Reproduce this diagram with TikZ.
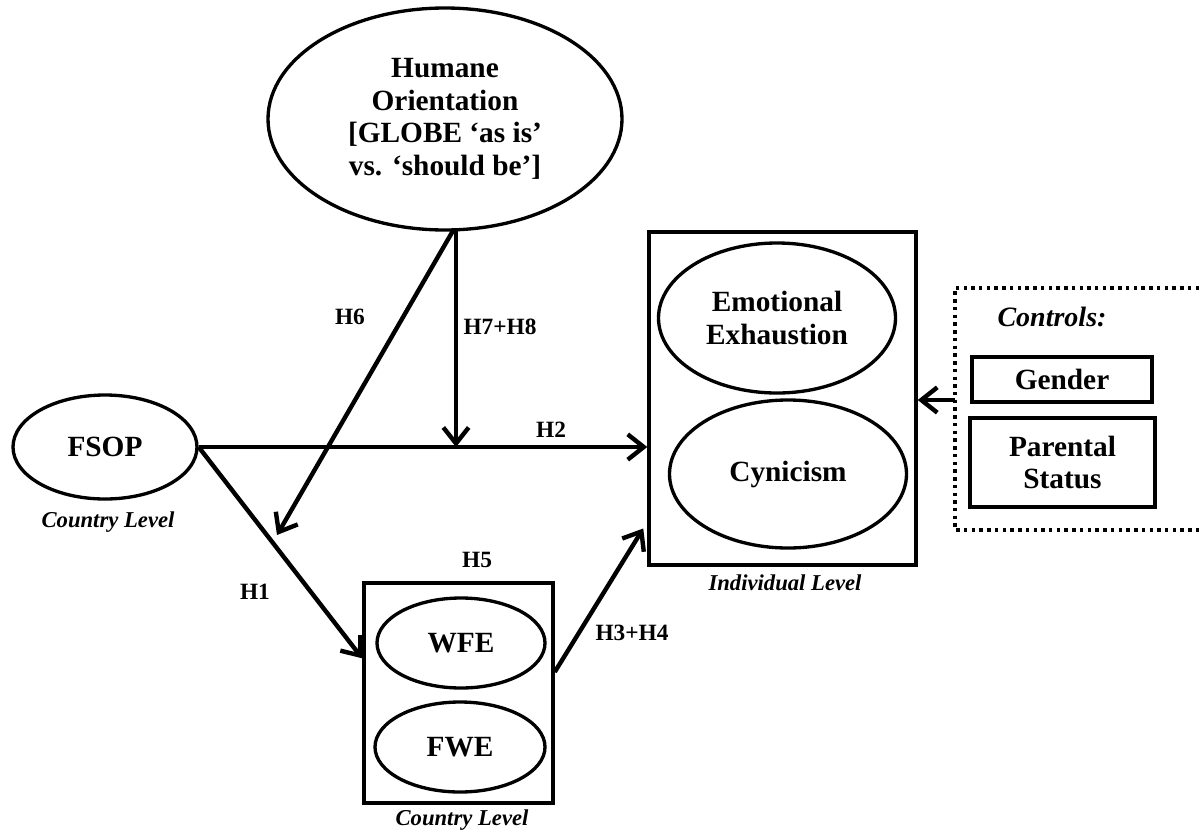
\documentclass[tikz,border=0pt]{standalone}
\usepackage{fontspec}
\setmainfont{Liberation Serif}
\usetikzlibrary{shapes.geometric,arrows.meta}
\begin{document}
\begin{tikzpicture}[x=0.75pt,y=-0.75pt,
  ell/.style={draw,ellipse,line width=2.5pt,inner sep=0pt,align=center,font=\bfseries\fontsize{22}{24.5}\selectfont},
  bx/.style={draw,rectangle,line width=2.6pt,inner sep=0pt,align=center,font=\bfseries\fontsize{22}{24.5}\selectfont},
  lbl/.style={font=\bfseries\fontsize{17.5}{20}\selectfont},
  lvl/.style={font=\bfseries\itshape\fontsize{17}{20}\selectfont},
  conn/.style={line width=3.3pt,-{Straight Barb[length=12pt,width=19pt]}},
  dotbox/.style={line width=2.8pt,dash pattern=on 2.6pt off 3.2pt},
]
\useasboundingbox (0,0) rectangle (1199,836);

% containers
\node[bx, minimum width=267*0.75pt, minimum height=333*0.75pt] (indiv) at (782.5,398.5) {};
\node[bx, minimum width=189*0.75pt, minimum height=220*0.75pt] (country) at (458.5,693) {};

% ellipses
\node[ell, minimum width=354*0.75pt, minimum height=222*0.75pt] (humane) at (445,119)
  {Humane\\Orientation\\{[}GLOBE ‘as is’\\vs. ‘should be’]};
\node[ell, minimum width=184*0.75pt, minimum height=104*0.75pt] (fsop) at (105,447) {FSOP};
\node[ell, minimum width=168*0.75pt, minimum height=90*0.75pt] (wfe) at (461,643) {WFE};
\node[ell, minimum width=170*0.75pt, minimum height=90*0.75pt] (fwe) at (460,747) {FWE};
\node[ell, minimum width=237*0.75pt, minimum height=150*0.75pt] (ee) at (777,318) {Emotional\\Exhaustion};
\node[ell, minimum width=237*0.75pt, minimum height=148*0.75pt] (cyn) at (788,474) {Cynicism};

% controls
\draw[dotbox] (1199,288) -| (955,530) -- (1199,530);
\node[font=\bfseries\itshape\fontsize{21}{24}\selectfont] (controls) at (1052,317) {Controls:};
\node[bx, minimum width=180*0.75pt, minimum height=45*0.75pt] (gender) at (1062,379.5) {Gender};
\node[bx, minimum width=185*0.75pt, minimum height=89*0.75pt] (parent) at (1062.5,462.5) {Parental\\Status};
\coordinate (ctl) at (955,400);

% level labels
\node[lvl] (cl1) at (108,522) {Country Level};
\node[lvl] (cl2) at (462,820) {Country Level};
\node[lvl] (il) at (785,583) {Individual Level};

% hypothesis labels
\node[lbl] (h6) at (350,317) {H6};
\node[lbl] (h78) at (500,327) {H7+H8};
\node[lbl] (h2) at (551,430) {H2};
\node[lbl] (h1) at (255,592) {H1};
\node[lbl] (h5) at (477,560) {H5};
\node[lbl] (h34) at (632,633) {H3+H4};

% connector coordinates
\coordinate (h6s) at (454,229);
\coordinate (h6e) at (277,535);
\coordinate (h7s) at (456,229);
\coordinate (h7e) at (456,447);

% connectors
\draw[conn] (fsop.east) -- (indiv.west |- fsop.east);
\draw[conn] (h7s) -- (h7e);
\draw[conn] (h6s) -- (h6e);
\draw[conn] (fsop.east) -- ([yshift=26pt]country.west);
\draw[conn] ([yshift=15.75pt]country.east) -- ([yshift=-97.5pt,xshift=-3pt]indiv.west);
\draw[conn] (ctl) -- (indiv.east |- ctl);
\end{tikzpicture}
\end{document}
